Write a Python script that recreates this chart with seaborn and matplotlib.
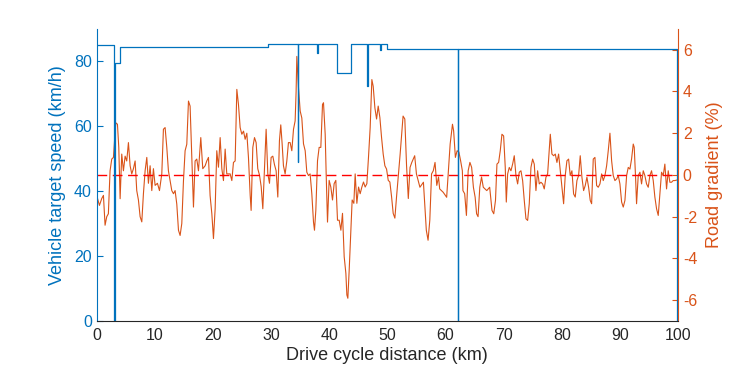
import matplotlib
matplotlib.use("Agg")
import matplotlib.pyplot as plt
import seaborn as sns

# -----------------------------------
# Data
# -----------------------------------

# target speed profile, step changes (km, km/h)
speed_km = [0, 3.0, 3.1, 4.0, 29.4, 34.6, 34.7, 37.9, 38.0, 41.4,
            43.7, 46.5, 46.6, 48.8, 48.9, 50.0, 62.1, 62.2, 99.9, 100]
speed_kmh = [85, 0, 79.5, 84.5, 85.3, 49, 85.3, 82.5, 85.3, 76.5,
             85.3, 72.5, 85.3, 83.5, 85.3, 83.7, 0, 83.7, 0, 0]

# road gradient along the cycle (km, %)
grade_km = [
    0, 0.46, 0.86, 1.15, 1.43, 1.72, 2.0, 2.29, 2.58, 2.87,
    3.27, 3.56, 3.79, 4.02, 4.30, 4.59, 4.88, 5.16, 5.45, 5.74,
    6.02, 6.31, 6.60, 6.88, 7.17, 7.46, 7.75, 8.03, 8.32, 8.61,
    8.89, 9.18, 9.47, 9.75, 10.04, 10.44, 10.79, 11.19, 11.47, 11.76,
    12.05, 12.33, 12.62, 12.91, 13.2, 13.48, 13.77, 14.06, 14.34, 14.63,
    14.92, 15.2, 15.49, 15.78, 16.06, 16.35, 16.64, 16.92, 17.21, 17.5,
    17.9, 18.24, 18.65, 18.93, 19.22, 19.5, 19.8, 20.08, 20.37, 20.65,
    20.94, 21.23, 21.52, 21.8, 22.09, 22.37, 22.95, 23.24, 23.52, 23.81,
    24.1, 24.38, 24.67, 24.96, 25.25, 25.53, 25.82, 26.1, 26.4, 26.56,
    26.85, 27.14, 27.42, 27.7, 28.0, 28.29, 28.57, 28.86, 29.14, 29.43,
    29.72, 30.0, 30.29, 30.57, 30.86, 31.15, 31.43, 31.66, 31.9, 32.12,
    32.41, 32.7, 32.98, 33.27, 33.56, 33.85, 34.13, 34.3, 34.42, 34.71,
    35.0, 35.28, 35.57, 35.86, 36.14, 36.43, 36.71, 37.0, 37.29, 37.46,
    37.69, 37.98, 38.26, 38.55, 38.84, 39.01, 39.3, 39.47, 39.7, 39.98,
    40.27, 40.56, 40.84, 41.13, 41.42, 41.71, 42.0, 42.28, 42.57, 42.86,
    43.03, 43.2, 43.43, 43.71, 43.94, 44.23, 44.46, 44.75, 45.04, 45.32,
    45.61, 45.89, 46.18, 46.47, 46.75, 47.04, 47.33, 47.56, 47.85, 48.14,
    48.42, 48.71, 49.0, 49.28, 49.57, 49.86, 50.15, 50.43, 50.72, 51.0,
    51.29, 51.58, 52.2, 52.7, 53.0, 53.3, 53.6, 53.9, 54.2, 54.7,
    55.0, 55.6, 56.2, 56.5, 56.7, 57.0, 57.3, 57.6, 57.9, 58.2,
    58.5, 58.8, 59.0, 59.6, 60.2, 60.5, 60.8, 61.2, 61.4, 61.7,
    62.0, 62.3, 62.6, 62.9, 63.0, 63.3, 63.6, 63.9, 64.2, 64.5,
    64.8, 65.1, 65.35, 65.6, 65.9, 66.2, 66.5, 67.1, 67.6, 68.0,
    68.3, 68.6, 68.85, 69.14, 69.42, 69.71, 70.0, 70.28, 70.46, 70.69,
    70.97, 71.26, 71.55, 71.83, 72.12, 72.41, 72.69, 72.98, 73.27, 73.55,
    73.84, 74.13, 74.41, 74.7, 74.99, 75.27, 75.56, 75.85, 76.13, 76.42,
    76.71, 76.99, 77.28, 77.57, 77.85, 78.03, 78.31, 78.6, 78.89, 79.17,
    79.46, 79.75, 80.03, 80.32, 80.6, 80.89, 81.18, 81.46, 81.75, 82.04,
    82.32, 82.61, 82.9, 83.18, 83.47, 83.76, 84.04, 84.33, 84.62, 84.9,
    85.14, 85.42, 85.71, 86.0, 86.28, 86.57, 86.86, 87.14, 87.43, 87.72,
    88.0, 88.29, 88.58, 88.86, 89.15, 89.44, 89.72, 90.01, 90.3, 90.58,
    90.87, 91.16, 91.44, 91.73, 92.01, 92.3, 92.47, 92.7, 92.87, 93.16,
    93.45, 93.73, 94.02, 94.3, 94.59, 94.88, 95.16, 95.45, 95.74, 96.02,
    96.31, 96.6, 96.88, 97.17, 97.46, 97.74, 98.03, 98.32, 98.6, 98.89,
    99.17, 99.46, 99.86,
]
grade_pct = [
    -0.99, -1.46, -1.13, -0.98, -2.41, -2.0, -1.86, 0.2, 0.76, 0.84,
    2.5, 2.43, 1.32, -1.14, 1.0, 0.2, 0.9, 0.67, 1.55, 0.44,
    0.05, 0.3, 0.67, -0.75, -1.2, -2.0, -2.25, -0.9, 0.2, 0.84,
    -0.4, 0.44, -0.75, 0.3, -0.5, -0.4, -0.75, 0.05, 2.19, 2.27,
    1.32, 0.2, -0.27, -0.75, -0.9, -0.75, -1.4, -2.65, -2.9, -2.33,
    -0.27, 1.16, 1.47, 3.54, 3.3, 0.84, -1.54, 0.67, 0.76, 0.2,
    1.79, 0.3, 0.44, 0.67, 0.84, -0.99, -1.86, -3.05, -1.62, 1.16,
    0.37, 1.79, 0.3, -0.27, 1.24, 0.05, 0.05, -0.27, 0.6, 0.67,
    4.1, 3.38, 2.27, 1.95, 2.1, 1.71, 2.0, 0.84, -0.99, -1.7,
    1.32, 1.79, 1.55, 0.3, -0.01, -0.56, -1.62, 0.3, 2.19, 0.05,
    -0.4, 0.84, 0.9, 0.5, 0.2, -1.06, 1.64, 2.4, 1.47, 0.44,
    0.05, 0.67, 1.55, 1.55, 1.16, 2.19, 2.59, 4.0, 5.68, 4.17,
    3.06, 2.73, 1.49, 1.16, 0.13, -0.03, 0.05, -0.9, -2.26, -2.65,
    -1.7, 0.68, 1.32, 1.32, 3.38, 3.46, 1.95, 0.05, -2.26, -0.26,
    -0.58, -1.2, -0.42, -0.26, -2.17, -2.17, -2.65, -1.84, -3.92, -4.72,
    -5.75, -5.91, -4.56, -2.65, -1.2, -1.36, 0.05, -1.36, -0.58, -0.9,
    -0.58, -0.34, -0.58, -0.42, 0.84, 2.27, 4.57, 4.25, 3.22, 2.68,
    3.3, 2.75, 1.79, 1.0, 0.44, 0.28, -0.26, -0.34, -1.04, -1.84,
    -2.07, -1.04, 1.01, 2.82, 2.68, 0.44, -1.13, 0.36, 0.6, 0.92,
    0.05, -0.59, -0.35, -1.7, -2.65, -3.13, -2.17, 0.05, 0.2, 0.6,
    -0.5, -0.1, -0.67, -0.83, -1.07, 0.2, 1.48, 2.43, 2.11, 0.84,
    1.16, 1.1, 0.68, 0.2, -0.75, -0.9, -1.94, 0.2, 0.6, 0.36,
    -0.59, -1.07, -1.86, -2.0, -0.59, -0.1, -0.59, -0.75, -0.59, -1.7,
    -1.86, -1.22, 0.52, 0.6, 1.16, 1.95, 1.87, 0.36, -1.3, 0.05,
    0.36, 0.2, 0.52, 0.92, -0.03, -0.43, 0.13, 0.2, -0.27, -1.22,
    -2.1, -2.18, -1.38, 0.36, 0.76, 0.52, -0.75, 0.2, -0.43, -0.35,
    -0.43, -0.67, -0.11, 0.05, 1.24, 1.95, 1.0, 0.92, 1.0, 0.6,
    1.0, 0.2, -0.59, -1.38, -0.03, 0.68, 0.76, -0.03, 0.2, -0.91,
    -1.06, -0.27, -0.03, 0.92, -0.11, -0.75, -0.51, -0.11, -0.59, -1.22,
    -1.38, 0.76, 0.84, -0.51, -0.59, -0.43, 0.05, -0.27, -0.03, 0.44,
    1.16, 2.0, 0.68, -0.03, -0.27, -0.19, -0.03, -0.43, -1.3, -1.54,
    -1.22, -0.03, 0.36, 0.28, 0.76, 1.48, 1.32, -0.11, -1.38, -0.03,
    0.13, -0.43, 0.2, -0.03, -0.43, -0.59, -0.03, 0.2, -0.27, -1.06,
    -1.62, -1.94, -0.91, 0.13, -0.03, 0.52, -0.67, 0.2, -0.35, -0.35,
    -0.27, -0.27, -0.24,
]
assert len(grade_km) == len(grade_pct)

x_ticks = list(range(0, 101, 10))
speed_ticks = [0, 20, 40, 60, 80]
grade_ticks = [-6, -4, -2, 0, 2, 4, 6]
flat_road = 0

BLUE = "#0072BD"
ORANGE = "#D95319"
GREY = "#262626"

# -----------------------------------
# Style
# -----------------------------------

sns.set_style("white")
plt.rcParams["font.family"] = ["Liberation Sans", "DejaVu Sans"]
plt.rcParams["axes.unicode_minus"] = False

fig = plt.figure(figsize=(7.5, 3.75), dpi=100)
ax1 = fig.add_axes([0.129, 0.144, 0.775, 0.779])
ax2 = ax1.twinx()

# -----------------------------------
# Road gradient (right axis)
# -----------------------------------

sns.lineplot(
    x=grade_km,
    y=grade_pct,
    ax=ax2,
    color=ORANGE,
    linewidth=0.8,
    estimator=None,
    sort=False
)

ax2.axhline(flat_road, color="#FF0000", linestyle="--",
            linewidth=1.0, dashes=(7, 4))

# -----------------------------------
# Target speed (left axis)
# -----------------------------------

sns.lineplot(
    x=speed_km,
    y=speed_kmh,
    ax=ax1,
    color=BLUE,
    linewidth=0.9,
    drawstyle="steps-post",
    estimator=None,
    sort=False
)

ax1.set_zorder(ax2.get_zorder() + 1)
ax1.patch.set_visible(False)

# -----------------------------------
# Axes
# -----------------------------------

ax1.set_xlim(0, 100)
ax1.set_ylim(0, 90)
ax2.set_ylim(-7, 7)
ax1.set_xticks(x_ticks)
ax1.set_yticks(speed_ticks)
ax2.set_yticks(grade_ticks)

ax1.set_xlabel("Drive cycle distance (km)", color=GREY, fontsize=13, labelpad=3)
ax1.set_ylabel("Vehicle target speed (km/h)", color=BLUE, fontsize=13, labelpad=6)
ax2.set_ylabel("Road gradient (%)", color=ORANGE, fontsize=13, labelpad=6)

for s in ["top", "right"]:
    ax1.spines[s].set_visible(False)
for s in ["top", "left", "bottom"]:
    ax2.spines[s].set_visible(False)
ax1.spines["left"].set_color(BLUE)
ax1.spines["bottom"].set_color(GREY)
ax2.spines["right"].set_color(ORANGE)
for sp in [ax1.spines["left"], ax1.spines["bottom"], ax2.spines["right"]]:
    sp.set_linewidth(0.8)

ax1.tick_params(axis="x", direction="in", length=4, width=0.8,
                colors=GREY, labelsize=11.5, pad=5)
ax1.tick_params(axis="y", direction="in", length=4, width=0.8,
                colors=BLUE, labelsize=11.5)
ax2.tick_params(axis="y", direction="in", length=4, width=0.8,
                colors=ORANGE, labelsize=11.5)

plt.savefig("out.png", dpi=100)
plt.close()
